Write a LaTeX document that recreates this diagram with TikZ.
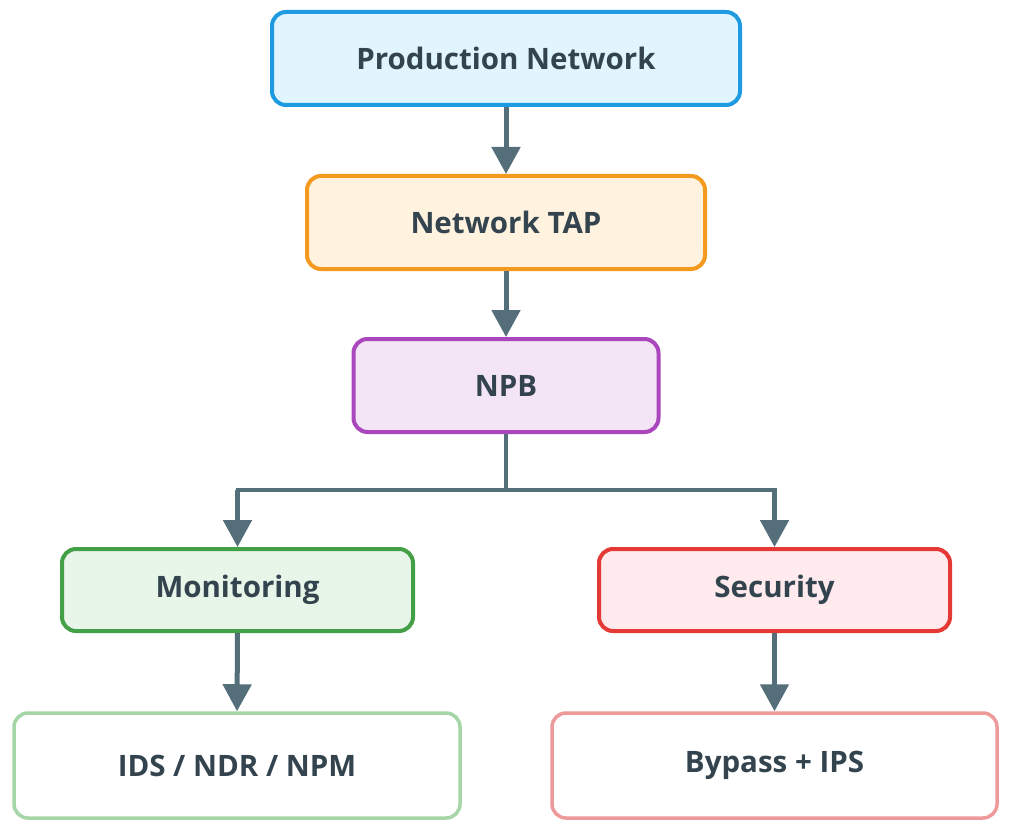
\documentclass[tikz,border=0pt]{standalone}
\usepackage{fontspec}
\setmainfont{Open Sans}
\usetikzlibrary{arrows.meta}
\definecolor{txt}{HTML}{34444F}
\definecolor{arr}{HTML}{546E7A}
\definecolor{bluB}{HTML}{1E9BE0}\definecolor{bluF}{HTML}{E1F5FE}
\definecolor{oraB}{HTML}{F49A1E}\definecolor{oraF}{HTML}{FFF3E0}
\definecolor{purB}{HTML}{AB47BC}\definecolor{purF}{HTML}{F3E5F5}
\definecolor{grnB}{HTML}{43A047}\definecolor{grnF}{HTML}{E8F5E9}
\definecolor{redB}{HTML}{E53935}\definecolor{redF}{HTML}{FFEBEE}
\definecolor{lgrB}{HTML}{A5D6A7}
\definecolor{lrdB}{HTML}{EF9A9A}
\tikzset{
  box/.style={draw, line width=4pt, rounded corners=14pt, inner sep=0pt, text=txt,
    font=\bfseries\fontsize{29.5}{35}\selectfont},
  leaf/.style={box, line width=3.5pt},
  conn/.style={draw=arr, line width=5pt, -{Triangle[length=27pt,width=28pt]}},
  line/.style={draw=arr, line width=4pt}
}
\begin{document}
\begin{tikzpicture}[x=1pt,y=-1pt]
\useasboundingbox (0,0) rectangle (1024,826);
\fill[white] (0,0) rectangle (1024,826);
\node[box, draw=bluB, fill=bluF, minimum width=468pt, minimum height=93pt] (prod) at (506,58.5) {Production Network};
\node[box, draw=oraB, fill=oraF, minimum width=398pt, minimum height=93pt] (tap) at (506,222.5) {Network TAP};
\node[box, draw=purB, fill=purF, minimum width=305pt, minimum height=93pt] (npb) at (506,385.5) {NPB};
\node[box, draw=grnB, fill=grnF, minimum width=351pt, minimum height=82pt] (mon) at (237.5,590) {Monitoring};
\node[box, draw=redB, fill=redF, minimum width=351pt, minimum height=82pt] (sec) at (774.5,590) {Security};
\node[leaf, draw=lgrB, fill=white, minimum width=446pt, minimum height=105pt] (ids) at (237,765.5) {IDS / NDR / NPM};
\node[leaf, draw=lrdB, fill=white, minimum width=445pt, minimum height=105pt] (byp) at (774.5,765.5) {Bypass + IPS};
\coordinate (split) at (506,490);
\coordinate (lft) at (237.5,490);
\coordinate (rgt) at (774.5,490);
\draw[conn] (prod.south) -- (tap.north);
\draw[conn] (tap.south) -- (npb.north);
\draw[line] (npb.south) -- (split);
\draw[line, line cap=rect] (lft) -- (rgt);
\draw[conn] (lft) -- (mon.north);
\draw[conn] (rgt) -- (sec.north);
\draw[conn] (mon.south) -- (ids.north);
\draw[conn] (sec.south) -- (byp.north);
\end{tikzpicture}
\end{document}
